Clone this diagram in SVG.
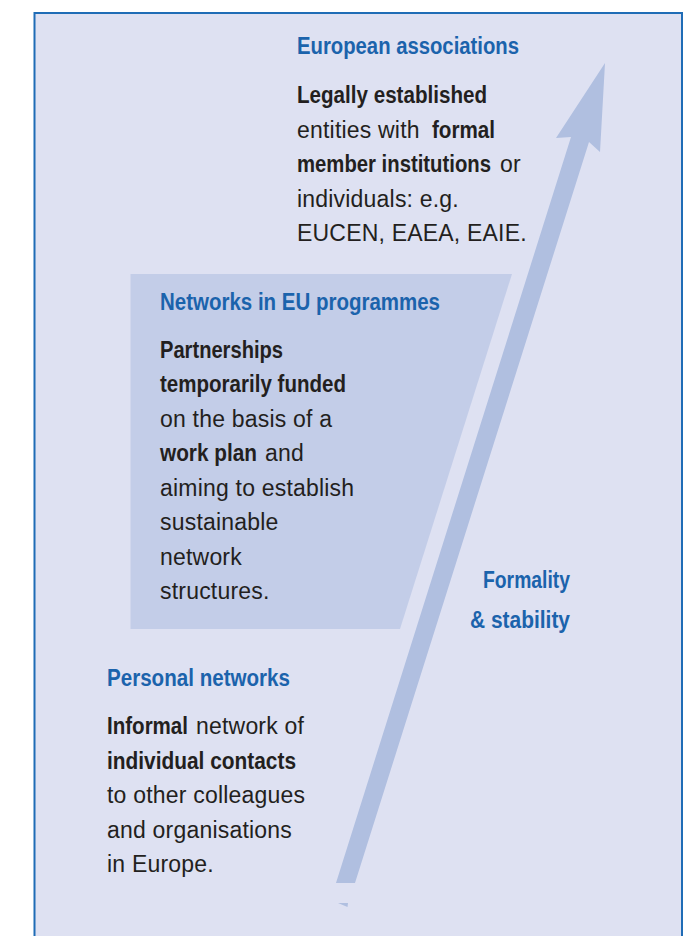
<svg xmlns="http://www.w3.org/2000/svg" width="687" height="936" viewBox="0 0 687 936">
<style>
.h{font-family:"Liberation Sans",Arial,sans-serif;font-weight:bold;font-size:23px;fill:#1b63ac}
.t{font-family:"Liberation Sans",Arial,sans-serif;font-size:23px;fill:#231f20;letter-spacing:0.2px}
.b{font-family:"Liberation Sans",Arial,sans-serif;font-weight:bold;font-size:23px;fill:#231f20;letter-spacing:0}
</style>
<rect x="0" y="0" width="687" height="936" fill="#ffffff"/>
<g id="frame">
<rect x="34.5" y="13" width="647.5" height="940" fill="#dee1f2" stroke="#1f6cb6" stroke-width="2"/>
</g>
<g id="networks-eu-band">
<polygon points="130.5,274 512,274 400,629 130.5,629" fill="#c3cde8"/>
</g>
<g id="connectors">
<polygon points="605,63 600,152 589,142 355,883 336,883 571,137 556,138" fill="#b0bfe0"/>
<polygon points="338,903 348,903 347.5,907" fill="#b0bfe0"/>
</g>
<g id="european-associations">
<text class="h" x="297" y="54" textLength="222" lengthAdjust="spacingAndGlyphs">European associations</text>
<text class="b" x="297" y="103.3" textLength="190" lengthAdjust="spacingAndGlyphs">Legally established</text>
<text class="t" x="297" y="137.8">entities with <tspan class="b" x="432" textLength="63" lengthAdjust="spacingAndGlyphs">formal</tspan></text>
<text class="b" transform="translate(297,172.3) scale(0.8826,1)">member institutions</text>
<text class="t" x="500" y="172.3">or</text>
<text class="t" x="297" y="206.8">individuals: e.g.</text>
<text class="t" x="297" y="241.3">EUCEN, EAEA, EAIE.</text>
</g>
<g id="networks-eu-programmes">
<text class="h" x="160" y="310" textLength="280" lengthAdjust="spacingAndGlyphs">Networks in EU programmes</text>
<text class="b" x="160" y="357.7" textLength="123" lengthAdjust="spacingAndGlyphs">Partnerships</text>
<text class="b" x="160" y="392.2" textLength="186" lengthAdjust="spacingAndGlyphs">temporarily funded</text>
<text class="t" x="160" y="426.7">on the basis of a</text>
<text class="t" x="160" y="461.2"><tspan class="b" textLength="97" lengthAdjust="spacingAndGlyphs">work plan</tspan><tspan x="265">and</tspan></text>
<text class="t" x="160" y="495.7">aiming to establish</text>
<text class="t" x="160" y="530.2">sustainable</text>
<text class="t" x="160" y="564.7">network</text>
<text class="t" x="160" y="599.2">structures.</text>
</g>
<g id="personal-networks">
<text class="h" x="107" y="685.7" textLength="183" lengthAdjust="spacingAndGlyphs">Personal networks</text>
<text class="t" x="107" y="734"><tspan class="b" textLength="81" lengthAdjust="spacingAndGlyphs">Informal</tspan><tspan x="196">network of</tspan></text>
<text class="b" x="107" y="768.6" textLength="189" lengthAdjust="spacingAndGlyphs">individual contacts</text>
<text class="t" x="107" y="803.2">to other colleagues</text>
<text class="t" x="107" y="837.8">and organisations</text>
<text class="t" x="107" y="872.4">in Europe.</text>
</g>
<g id="axis-label">
<text class="h" x="483" y="588.3" textLength="87" lengthAdjust="spacingAndGlyphs">Formality</text>
<text class="h" x="470" y="628.3" textLength="100" lengthAdjust="spacingAndGlyphs">&amp; stability</text>
</g>
</svg>
